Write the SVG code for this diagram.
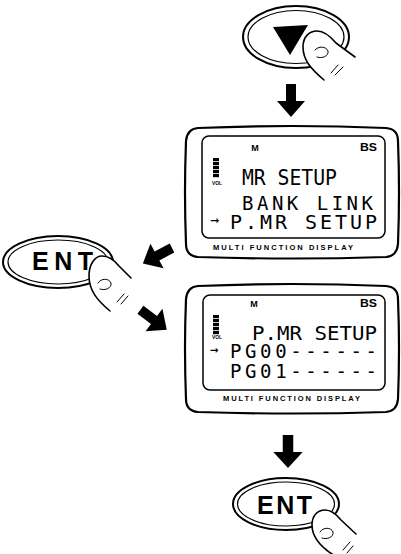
<svg xmlns="http://www.w3.org/2000/svg" xmlns:xlink="http://www.w3.org/1999/xlink" width="401" height="554" viewBox="0 0 401 554">
  <style>
    .frame { fill: #fff; stroke: #000; stroke-width: 2.2; stroke-linejoin: round; }
    .screen { fill: none; stroke: #000; stroke-width: 1.5; }
    .lcd { font-family: "DejaVu Sans Mono", "Liberation Mono", monospace; fill: #000; }
    .lbl { font-family: "Liberation Sans", Arial, sans-serif; font-weight: bold; fill: #000; }
    .key { font-family: "Liberation Sans", Arial, sans-serif; font-weight: bold; font-size: 25px; fill: #000; }
    .btn-outer { fill: #fff; stroke: #000; stroke-width: 2; }
    .btn-inner { fill: none; stroke: #000; stroke-width: 1.2; }
    .finger { fill: #fff; stroke: #000; stroke-width: 1.6; stroke-linejoin: round; stroke-linecap: round; }
    .thin { fill: none; stroke: #000; stroke-width: 1; stroke-linecap: round; }
    .arrow { fill: #000; }
  </style>
  <defs>
    <!-- block arrow pointing down, origin at centre of the head base -->
    <path id="blk" d="M-5,-17 H5 V0 H14 L0,16 L-14,0 H-5 Z"/>
    <!-- volume level bar stack -->
    <g id="vol">
      <rect x="0" y="0" width="6" height="3.2" fill="#000"/>
      <rect x="0" y="4" width="6" height="3.2" fill="#000"/>
      <rect x="0" y="8" width="6" height="3.2" fill="#000"/>
      <rect x="0" y="12" width="6" height="3.2" fill="#000"/>
      <rect x="0" y="16" width="6" height="3.2" fill="#000"/>
    </g>
  </defs>

  <rect width="401" height="554" fill="#fff"/>

  <!-- down/selector key pressed by a finger -->
  <g id="key-down">
    <ellipse class="btn-outer" cx="296" cy="37" rx="53" ry="31"/>
    <ellipse class="btn-inner" cx="296" cy="37" rx="48" ry="26.5"/>
    <polygon points="273,27 308,25 290,55" fill="#000"/>
    <path class="finger" d="M324,80 C311,69 303,60 303,47 C303,36 310,31 317,31 C325,31 331,37 336,43 L355,57"/>
    <path class="thin" d="M315,50 C318,46 326,46 328,51 C329,56 322,59 317,57"/>
    <path class="thin" d="M331,73 L338,65 M335,75 L343,67"/>
  </g>

  <!-- first display: MR SETUP menu -->
  <g id="display-mr-setup">
    <path class="frame" d="M198,128 Q292,124 386,128 Q398,129 398,141 Q400,192 398,244 Q397,256 386,257 Q292,260 198,257 Q186,256 186,244 Q184,192 186,141 Q187,129 198,128 Z"/>
    <rect class="screen" x="202" y="136" width="183" height="102" rx="7"/>
    <text class="lbl" x="255" y="151" font-size="9" text-anchor="middle">M</text>
    <text class="lbl" x="360" y="151" font-size="10" textLength="17" lengthAdjust="spacingAndGlyphs">BS</text>
    <use href="#vol" x="213" y="158"/>
    <text class="lbl" x="212" y="185" font-size="5.5" textLength="10" lengthAdjust="spacingAndGlyphs">VOL</text>
    <text class="lcd" x="242" y="185" font-size="22" textLength="95" lengthAdjust="spacingAndGlyphs">MR SETUP</text>
    <text class="lcd" x="242" y="210" font-size="19" textLength="131" lengthAdjust="spacing">BANK LINK</text>
    <text class="lcd" x="210" y="225" font-size="15">→</text>
    <text class="lcd" x="230" y="229" font-size="20" textLength="147" lengthAdjust="spacing">P.MR SETUP</text>
    <text class="lbl" x="213" y="250" font-size="7.5" textLength="140" lengthAdjust="spacing">MULTI FUNCTION DISPLAY</text>
  </g>

  <!-- ENT key on the left -->
  <g id="key-ent-left">
    <ellipse class="btn-outer" cx="58" cy="262" rx="55" ry="26"/>
    <ellipse class="btn-inner" cx="58" cy="262" rx="50" ry="22"/>
    <text class="key" x="32" y="270" textLength="61" lengthAdjust="spacing">ENT</text>
    <path class="finger" d="M110,311 C98,301 89,291 89,276 C89,264 95,256 102,256 C110,256 115,261 119,266 L131,278"/>
    <path class="thin" d="M98,283 C101,278 109,278 111,283 C112,288 105,291 100,289"/>
    <path class="thin" d="M117,302 L124,294 M121,304 L128,296"/>
  </g>

  <!-- second display: P.MR SETUP page list -->
  <g id="display-pmr-setup">
    <path class="frame" d="M198,286 Q292,282 386,286 Q398,287 398,299 Q400,348 398,399 Q397,411 386,412 Q292,415 198,412 Q186,411 186,399 Q184,348 186,299 Q187,287 198,286 Z"/>
    <rect class="screen" x="203" y="295" width="182" height="95" rx="7"/>
    <text class="lbl" x="254" y="307" font-size="9" text-anchor="middle">M</text>
    <text class="lbl" x="360" y="307" font-size="10" textLength="17" lengthAdjust="spacingAndGlyphs">BS</text>
    <use href="#vol" x="213" y="315"/>
    <text class="lbl" x="212" y="339" font-size="5.5" textLength="10" lengthAdjust="spacingAndGlyphs">VOL</text>
    <text class="lcd" x="252" y="340" font-size="19" textLength="125" lengthAdjust="spacingAndGlyphs">P.MR SETUP</text>
    <text class="lcd" x="210" y="354" font-size="14">→</text>
    <text class="lcd" x="230" y="358" font-size="19" textLength="147" lengthAdjust="spacing">PG00------</text>
    <text class="lcd" x="230" y="378" font-size="19" textLength="147" lengthAdjust="spacing">PG01------</text>
    <text class="lbl" x="223" y="401" font-size="7.5" textLength="137" lengthAdjust="spacing">MULTI FUNCTION DISPLAY</text>
  </g>

  <!-- ENT key at the bottom -->
  <g id="key-ent-bottom">
    <ellipse class="btn-outer" cx="286" cy="504" rx="53" ry="26"/>
    <ellipse class="btn-inner" cx="286" cy="504" rx="48.5" ry="22"/>
    <text class="key" x="257" y="514" textLength="55" lengthAdjust="spacing">ENT</text>
    <path class="finger" d="M335,556 C322,548 312,538 312,525 C312,515 318,510 325,510 C332,510 337,515 341,520 L356,534"/>
    <path class="thin" d="M320,532 C323,527 331,527 333,532 C334,537 327,540 322,538"/>
    <path class="thin" d="M343,550 L350,542 M347,553 L353,546"/>
  </g>

  <!-- flow arrows -->
  <g id="connectors">
    <use class="arrow" href="#blk" transform="translate(291,101)"/>
    <use class="arrow" href="#blk" transform="translate(157,256) rotate(62)"/>
    <use class="arrow" href="#blk" transform="translate(154,320) rotate(-53)"/>
    <use class="arrow" href="#blk" transform="translate(288,452) scale(1.05,1)"/>
  </g>
</svg>
